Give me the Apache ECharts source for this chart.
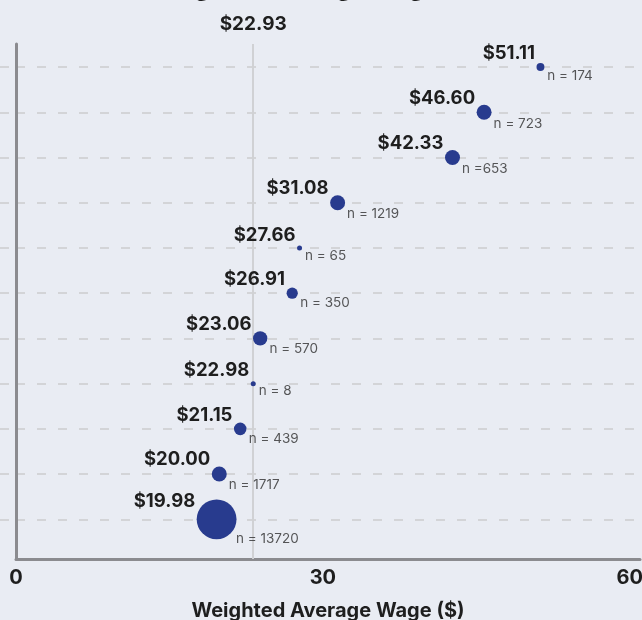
<!DOCTYPE html>
<html><head><meta charset="utf-8">
<script src="https://cdn.jsdelivr.net/npm/echarts@6/dist/echarts.min.js"></script>
<style>html,body{margin:0;padding:0;background:#e9ecf3;}#c{width:642px;height:620px;}</style>
</head><body><div id="c"></div>
<script>
// ---- data (rows listed bottom to top) ----
const rows = [0, 1, 2, 3, 4, 5, 6, 7, 8, 9, 10];
const wageLabels = [19.98, 20.00, 21.15, 22.98, 23.06, 26.91, 27.66, 31.08, 42.33, 46.60, 51.11];
const wagePositions = [19.61, 19.87, 21.92, 23.19, 23.87, 27.00, 27.72, 31.44, 42.67, 45.76, 51.27];
const counts = [13720, 1717, 439, 8, 570, 350, 65, 1219, 653, 723, 174];
const countLabels = ['n = 13720', 'n = 1717', 'n = 439', 'n = 8', 'n = 570', 'n = 350', 'n = 65', 'n = 1219', 'n =653', 'n = 723', 'n = 174'];
const avgLinePosition = 23.19;
const avgLabel = '$22.93';
const xTicks = [0, 30, 60];
const xTitle = 'Weighted Average Wage ($)';
const titleText = 'Weighted Average Wage';

// ---- styling ----
const FONT = 'Inter';
const TEXT = '#1e1e1e';
const DOT = '#283b8e';
const GRIDLINE = {color: '#d3d4d7', width: 2, type: [9, 12]};
const AXIS = {color: '#8b8b8f', width: 3};

function dotSize(n) {
  const s = Math.sqrt(n);
  return Math.max(5, Math.min(15, 0.6 * s)) + Math.max(0, 0.34 * s - 15);
}

const dotData = rows.map((r, i) => {
  const sz = dotSize(counts[i]);
  return {value: [wagePositions[i], r], symbolSize: sz, label: {offset: [0, -(12 + 0.15 * sz)]}};
});
const nData = rows.map((r, i) => {
  const sz = dotSize(counts[i]);
  return {value: [wagePositions[i], r], symbolSize: sz, label: {offset: [1.5 - 0.1 * sz, 6 + 0.35 * sz]}};
});

const yCommon = {
  type: 'value', min: -0.878, max: 10.51,
  axisTick: {show: false, customValues: rows},
  axisLabel: {show: false},
  splitLine: {show: true, lineStyle: GRIDLINE}
};

const chart = echarts.init(document.getElementById('c'));
chart.setOption({
  backgroundColor: '#e9ecf3',
  animation: false,
  textStyle: {fontFamily: FONT},
  title: {
    text: titleText, left: 150, top: -23.5, padding: 0,
    textStyle: {fontFamily: FONT, fontSize: 24, fontWeight: 'bold', color: TEXT}
  },
  grid: [
    {left: 16, right: 2, top: 44, bottom: 61, outerBoundsMode: 'none', containLabel: false},
    {left: 0, width: 16, top: 44, bottom: 61, outerBoundsMode: 'none', containLabel: false}
  ],
  xAxis: [
    {
      gridIndex: 0, type: 'value', min: 0, max: 61,
      axisLine: {show: true, onZero: false, lineStyle: AXIS},
      axisTick: {show: false},
      splitLine: {show: false},
      axisLabel: {customValues: xTicks, margin: 9, fontSize: 20, fontWeight: 'bold', color: TEXT, fontFamily: FONT},
      name: xTitle, nameLocation: 'middle', nameGap: 42,
      nameTextStyle: {fontSize: 20, fontWeight: 'bold', color: TEXT, fontFamily: FONT}
    },
    {gridIndex: 1, type: 'value', min: 0, max: 1, show: false}
  ],
  yAxis: [
    Object.assign({gridIndex: 0, axisLine: {show: true, onZero: false, lineStyle: AXIS}}, yCommon),
    Object.assign({gridIndex: 1, axisLine: {show: false}}, yCommon)
  ],
  series: [
    {
      type: 'scatter', xAxisIndex: 0, yAxisIndex: 0, z: 1, silent: true,
      data: [],
      markLine: {
        silent: true, z: 1, symbol: ['none', 'none'],
        lineStyle: {color: '#d0d1d4', width: 2, type: 'solid'},
        label: {show: true, position: 'end', distance: 10, formatter: avgLabel,
          fontSize: 19, fontWeight: 'bold', color: TEXT, fontFamily: FONT},
        data: [{xAxis: avgLinePosition}]
      }
    },
    {
      type: 'scatter', xAxisIndex: 0, yAxisIndex: 0, z: 3, silent: true,
      data: nData,
      itemStyle: {color: 'rgba(0,0,0,0)'},
      label: {
        show: true, position: 'right', distance: 2,
        formatter: p => countLabels[p.dataIndex],
        fontSize: 13.5, color: '#2e2e2e', fontFamily: FONT
      }
    },
    {
      type: 'scatter', xAxisIndex: 0, yAxisIndex: 0, z: 4, silent: true,
      data: dotData,
      itemStyle: {color: DOT, opacity: 1},
      label: {
        show: true, position: 'left', distance: 1.5,
        formatter: p => '$' + wageLabels[p.dataIndex].toFixed(2),
        fontSize: 18.5, fontWeight: 'bold', color: TEXT, fontFamily: FONT
      }
    }
  ]
});
</script>
</body></html>
